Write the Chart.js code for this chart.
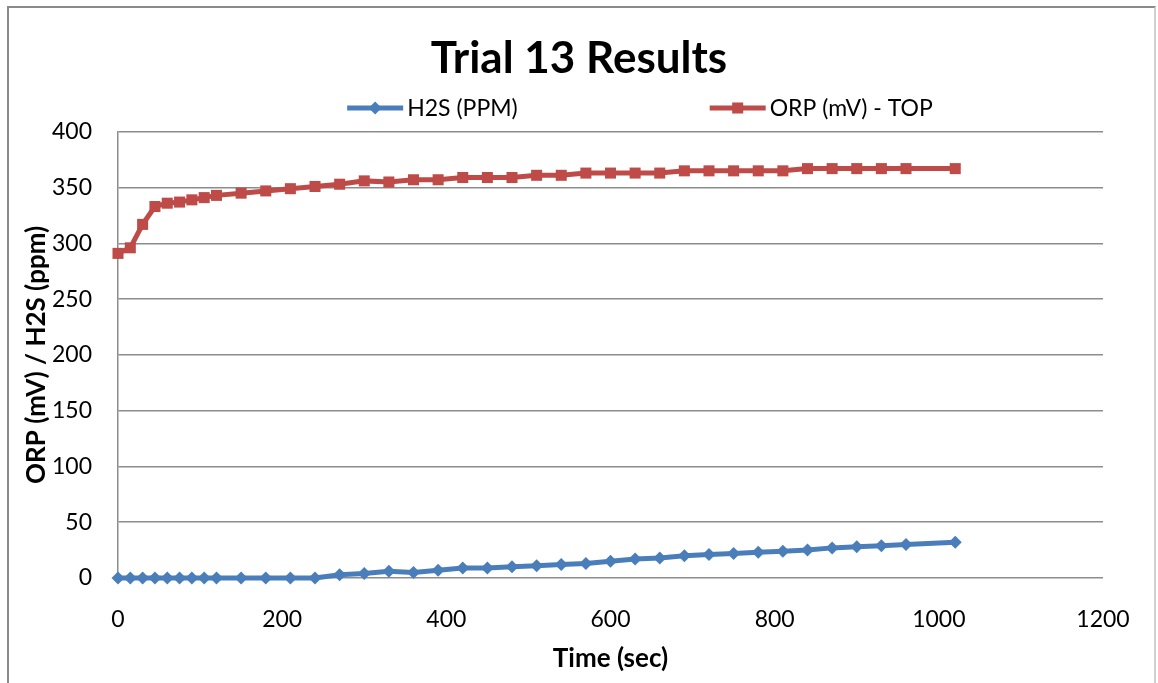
<!DOCTYPE html>
<html lang="en">
<head>
    <meta charset="UTF-8">
    <title>Trial 13 Results</title>
    <script src="https://cdn.jsdelivr.net/npm/chart.js"></script>
    <style>
        html, body { margin: 0; padding: 0; background: #fff; }
        #wrap { position: relative; width: 1158px; height: 683px; overflow: hidden; }
        #frame {
            position: absolute; left: 7px; top: 6px; width: 1149px; height: 690px;
            border: 2px solid #8a8a8a; border-right-color: #d0d0d0; box-sizing: border-box;
        }
        canvas { position: absolute; left: 0; top: 0; }
    </style>
</head>
<body>
<div id="wrap">
    <div id="frame"></div>
    <canvas id="trialChart" width="1158" height="683"></canvas>
</div>

<script>
    // sample times (sec)
    const times = [0, 15, 30, 45, 60, 75, 90, 105, 120, 150, 180, 210, 240, 270, 300, 330, 360, 390, 420,
        450, 480, 510, 540, 570, 600, 630, 660, 690, 720, 750, 780, 810, 840, 870, 900, 930, 960, 1020];
    const h2sPpm = [0, 0, 0, 0, 0, 0, 0, 0, 0, 0, 0, 0, 0, 3, 4, 6, 5, 7, 9,
        9, 10, 11, 12, 13, 15, 17, 18, 20, 21, 22, 23, 24, 25, 27, 28, 29, 30, 32];
    const orpTop = [291, 296, 317, 333, 336, 337, 339, 341, 343, 345, 347, 349, 351, 353, 356, 355, 357, 357, 359,
        359, 359, 361, 361, 363, 363, 363, 363, 365, 365, 365, 365, 365, 367, 367, 367, 367, 367, 367];
    const xTicks = [0, 200, 400, 600, 800, 1000, 1200];
    const yTicks = [0, 50, 100, 150, 200, 250, 300, 350, 400];

    const seriesNames = ['H2S (PPM)', 'ORP (mV) - TOP'];
    const blue = '#4a7ebb';
    const red = '#be4b48';
    const fontFamily = 'Lato, "Open Sans", sans-serif';

    function toPoints(values) {
        return times.map((t, i) => ({ x: t, y: values[i] }));
    }

    function drawMarker(ctx, style, x, y, r) {
        if (style === 'rect') {
            const s = Math.SQRT1_2 * r;
            ctx.rect(x - s, y - s, 2 * s, 2 * s);
        } else {
            ctx.moveTo(x, y - r);
            ctx.lineTo(x + r, y);
            ctx.lineTo(x, y + r);
            ctx.lineTo(x - r, y);
            ctx.closePath();
        }
    }

    // legend drawn as line + marker, like an office chart
    const lineLegend = {
        id: 'lineLegend',
        afterDraw(chart) {
            const ctx = chart.ctx;
            const y = 108;
            const lineLen = 56;
            const gap = 192;
            ctx.save();
            ctx.font = '23px ' + fontFamily;
            const items = chart.data.datasets.map(ds => ({
                ds: ds,
                w: lineLen + 4 + ctx.measureText(ds.label).width
            }));
            const total = items.reduce((s, it) => s + it.w, 0) + gap * (items.length - 1);
            let x = chart.width / 2 + 61 - total / 2;
            items.forEach(it => {
                const ds = it.ds;
                ctx.strokeStyle = ds.borderColor;
                ctx.lineWidth = 5;
                ctx.beginPath();
                ctx.moveTo(x, y);
                ctx.lineTo(x + lineLen, y);
                ctx.stroke();
                ctx.fillStyle = ds.pointBackgroundColor;
                ctx.beginPath();
                drawMarker(ctx, ds.pointStyle, x + lineLen / 2, y, ds.pointRadius);
                ctx.fill();
                ctx.fillStyle = '#000';
                ctx.textBaseline = 'middle';
                ctx.textAlign = 'left';
                ctx.fillText(ds.label, x + lineLen + 4, y + 1);
                x += it.w + gap;
            });
            ctx.restore();
        }
    };

    const ctx = document.getElementById('trialChart').getContext('2d');
    new Chart(ctx, {
        type: 'scatter',
        data: {
            datasets: [{
                label: seriesNames[0],
                data: toPoints(h2sPpm),
                showLine: true,
                clip: false,
                borderColor: blue,
                backgroundColor: blue,
                pointBackgroundColor: blue,
                pointBorderColor: blue,
                borderWidth: 5,
                pointStyle: 'rectRot',
                pointRadius: 6.5,
                pointBorderWidth: 0,
                order: 2
            }, {
                label: seriesNames[1],
                data: toPoints(orpTop),
                showLine: true,
                clip: false,
                borderColor: red,
                backgroundColor: red,
                pointBackgroundColor: red,
                pointBorderColor: red,
                borderWidth: 5,
                pointStyle: 'rect',
                pointRadius: 7.8,
                pointBorderWidth: 0,
                order: 1
            }]
        },
        options: {
            responsive: false,
            animation: false,
            layout: { padding: 0 },
            plugins: {
                legend: { display: false },
                tooltip: { enabled: false },
                title: {
                    display: true,
                    text: 'Trial 13 Results',
                    color: '#000',
                    font: { family: fontFamily, size: 44, weight: 'bold' },
                    padding: { top: 32, bottom: 47 }
                }
            },
            scales: {
                x: {
                    type: 'linear',
                    min: 0,
                    max: 1200,
                    afterBuildTicks(scale) {
                        scale.ticks = xTicks.map(v => ({ value: v }));
                    },
                    grid: { display: false, drawTicks: false },
                    border: { display: false },
                    ticks: {
                        color: '#000',
                        padding: 28,
                        maxRotation: 0,
                        font: { family: fontFamily, size: 23 },
                        callback: v => String(v)
                    },
                    title: {
                        display: true,
                        text: 'Time (sec)',
                        color: '#000',
                        font: { family: fontFamily, size: 26, weight: 'bold' },
                        padding: { top: 0, bottom: 9 }
                    },
                    afterFit(scale) { scale.height = 105; }
                },
                y: {
                    min: 0,
                    max: 400,
                    afterBuildTicks(scale) {
                        scale.ticks = yTicks.map(v => ({ value: v }));
                    },
                    grid: { color: '#8c8c8c', lineWidth: 1.5, drawTicks: false },
                    border: { display: true, color: '#8c8c8c', width: 1.5 },
                    ticks: {
                        color: '#000',
                        padding: 26,
                        font: { family: fontFamily, size: 23 },
                        callback: v => String(v)
                    },
                    title: {
                        display: true,
                        text: 'ORP (mV) / H2S (ppm)',
                        color: '#000',
                        font: { family: fontFamily, size: 26, weight: 'bold' },
                        padding: { top: 21, bottom: 0 }
                    },
                    afterFit(scale) { scale.width = 118; }
                },
                // keeps room on the right of the plot
                yRight: {
                    position: 'right',
                    display: true,
                    grid: { display: false, drawTicks: false },
                    border: { display: false },
                    ticks: { display: false },
                    afterFit(scale) { scale.width = 55; }
                }
            }
        },
        plugins: [lineLegend]
    });
</script>
</body>
</html>
